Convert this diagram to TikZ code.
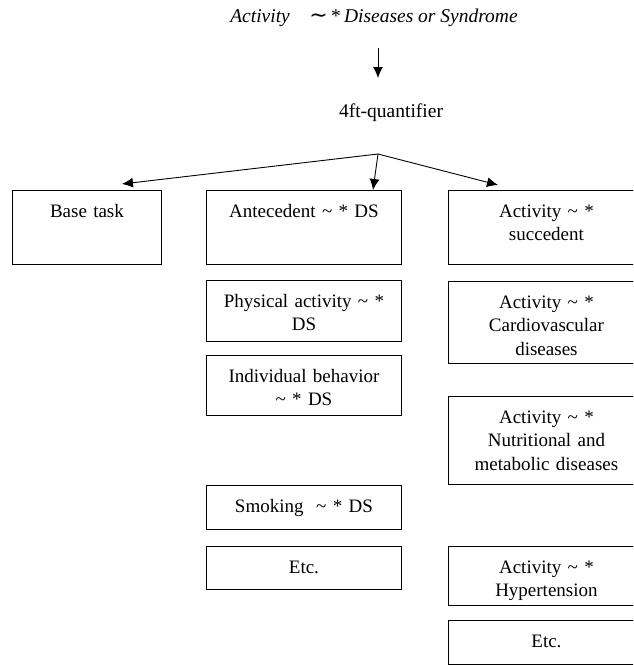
\documentclass[tikz,border=0pt]{standalone}
\usepackage{fontspec}
\setmainfont{Liberation Serif}
\newfontfamily\symfont{DejaVu Sans}
\usetikzlibrary{arrows.meta}
\tikzset{
  box/.style={draw, line width=0.9pt, anchor=north west, inner sep=0pt,
    align=center, text height=27pt, font=\fontsize{19}{23.5}\selectfont},
  boxw/.style={text width=#1pt},
  boxh/.style={text depth=#1pt-27pt},
  arr/.style={line width=0.9pt, -{Latex[length=11pt,width=10pt]}}
}

\begin{document}
\begin{tikzpicture}[x=1pt,y=-1pt]
\useasboundingbox (0,0) rectangle (633,665);
\clip (0,0) rectangle (633,665);

\node[font=\fontsize{19.5}{23}\selectfont, inner sep=2pt] (title) at (374,18)
  {\textit{Activity}\quad{\symfont\fontsize{22}{22}\selectfont ∼}\,*\,\textit{Diseases or Syndrome}};
\node[font=\fontsize{19.5}{23.5}\selectfont] (quant) at (391,113) {4ft-quantifier};

\coordinate (from) at (378,48);
\coordinate (to) at (378,78);
\coordinate (split) at (378,154);
\coordinate (inbase) at (122,184);
\coordinate (inante) at (373,190);
\coordinate (insucc) at (498,185);

% first row
\node[box, boxw=149, boxh=74] (base) at (12,190) {Base task};
\node[box, boxw=195, boxh=74] (ante) at (206,190) {Antecedent \textasciitilde\ * DS};
\node[box, boxw=196, boxh=74] (succ) at (448,190) {Activity \textasciitilde\ *\\succedent};

% antecedents
\node[box, boxw=195, boxh=61] (phys) at (206,280) {Physical activity \textasciitilde\ *\\DS};
\node[box, boxw=195, boxh=60] (indiv) at (206,355) {Individual behavior\\\textasciitilde\ * DS};
\node[box, boxw=195, boxh=44] (smok) at (206,485) {Smoking \ \textasciitilde\ * DS};
\node[box, boxw=195, boxh=43] (etcl) at (206,546) {Etc.};

% succedents
\node[box, boxw=196, boxh=82] (cardio) at (448,281) {Activity \textasciitilde\ *\\Cardiovascular\\diseases};
\node[box, boxw=196, boxh=88] (nutri) at (448,396) {Activity \textasciitilde\ *\\Nutritional and\\metabolic diseases};
\node[box, boxw=196, boxh=59] (hyper) at (448,546) {Activity \textasciitilde\ *\\Hypertension};
\node[box, boxw=196, boxh=44] (etcr) at (448,620) {Etc.};

\draw[arr] (from) -- (to);
\draw[arr] (split) -- (inbase);
\draw[arr] (split) -- (inante);
\draw[arr] (split) -- (insucc);

\end{tikzpicture}
\end{document}
